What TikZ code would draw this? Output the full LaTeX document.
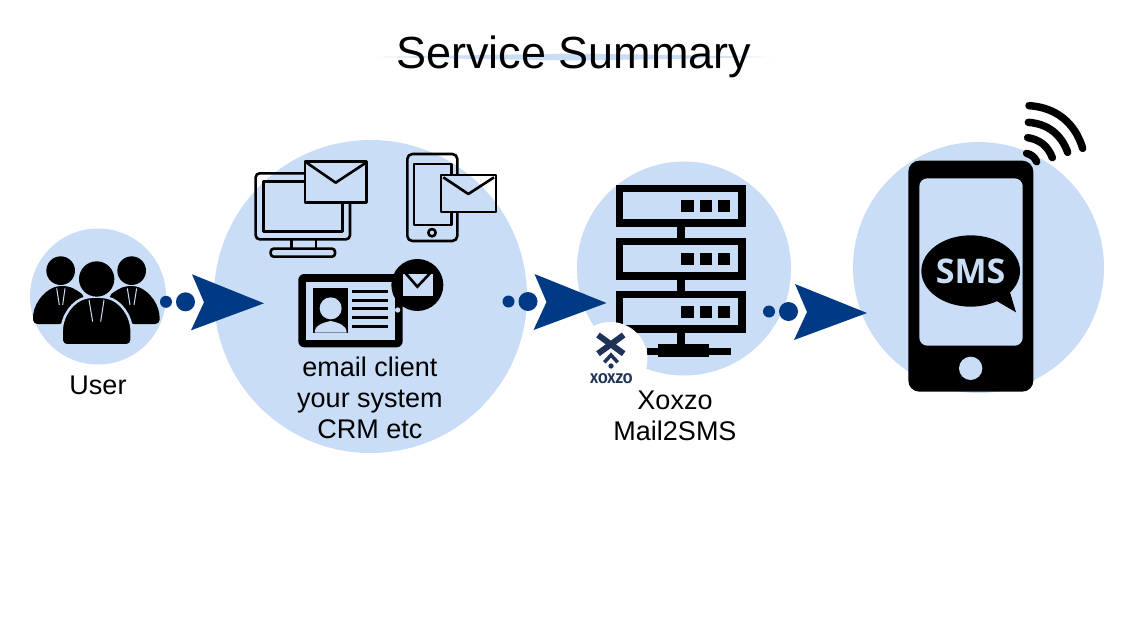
\documentclass[tikz,border=0pt]{standalone}
\usepackage{fontspec}
\setmainfont{Liberation Sans}
\newfontfamily\smsfont{Open Sans}
\newfontfamily\logofont{Fira Sans}
\definecolor{disc}{HTML}{C9DDF7}
\definecolor{flow}{HTML}{003A84}
\definecolor{logoink}{HTML}{1F3358}
\pgfdeclarehorizontalshading{titlerule}{100bp}{color(0bp)=(white);color(25bp)=(white);color(28bp)=(disc!70!white);color(38bp)=(disc);color(62bp)=(disc);color(72bp)=(disc!70!white);color(75bp)=(white);color(100bp)=(white)}
\tikzset{
  bluedisc/.style={circle,fill=disc,draw=none,inner sep=0pt},
  label27/.style={font=\fontsize{27}{31}\selectfont,align=center,anchor=base,inner sep=0pt,text=black},
  outline/.style={draw=black,line width=2.6pt,line join=round},
  pane/.style={fill=disc,draw=none},
  wave/.style={draw=black,line width=7.5pt,line cap=round},
  tinybar/.style={draw=black,line width=3pt},
  flowarrow/.pic={
    \fill[flow] (-72,-29) -- (0,0) -- (-73,27) -- (-60,-1) -- cycle;
    \fill[flow] (-78.5,-1.5) circle[radius=9.5];
    \fill[flow] (-98,-1.5) circle[radius=6];
  }
}
\begin{document}
\begin{tikzpicture}[x=1pt,y=-1pt]
\useasboundingbox (0,0) rectangle (1125,625);
\fill[white] (0,0) rectangle (1125,625);

% title
\shade[shading=titlerule] (370,57) -- (480,55) -- (573,53.5) -- (670,55) -- (776,57) -- (670,59) -- (573,60.5) -- (480,59) -- cycle;
\node[anchor=base,inner sep=0pt,font=\fontsize{45}{50}\selectfont] (title) at (574,68.5) {Service Summary};

% discs
\node[bluedisc,minimum size=136pt] (user) at (98,296.5) {};
\node[bluedisc,minimum size=313pt] (client) at (370.5,296.5) {};
\node[bluedisc,minimum size=214pt] (server) at (684,268.5) {};
\node[bluedisc,minimum size=251pt] (phone) at (978.5,267.5) {};

% people
\begin{scope}[shift={(20,140)},scale=1/3]
  \fill (122,392) circle[radius=43];
  \fill (335,392) circle[radius=43];
  \fill[rounded corners=4pt] (40,552) .. controls (36,495) and (70,455) .. (112,438) -- (142,438) .. controls (160,445) and (178,455) .. (195,470) -- (130,552) -- cycle;
  \fill[rounded corners=4pt] (418,552) .. controls (422,495) and (388,455) .. (348,438) -- (318,438) .. controls (300,445) and (282,455) .. (265,470) -- (330,552) -- cycle;
  \draw[disc,line width=1pt] (110,445) -- (118,495) (135,445) -- (128,495);
  \draw[disc,line width=1pt] (322,445) -- (330,495) (350,445) -- (342,495);
  \filldraw[fill=black,draw=disc,line width=2.5pt,rounded corners=5pt] (125,616) -- (125,590) .. controls (125,525) and (160,482) .. (210,470) -- (250,470) .. controls (300,482) and (335,525) .. (335,590) -- (335,616) -- cycle;
  \fill (230,417) circle[radius=53];
  \draw[disc,line width=1pt] (207,480) -- (218,545) (252,480) -- (242,545);
\end{scope}
\node[label27] (userlabel) at (98,394) {User};

% first arrow
\pic at (264,303.3) {flowarrow};

% client icons
\begin{scope}[shift={(240,140)},scale=1/3]
  % monitor
  \draw[outline,rounded corners=4pt] (47,100) rectangle (330,298);
  \draw[outline] (70,125) rectangle (308,275);
  \draw[outline] (155,300) -- (155,325) (228,300) -- (228,325);
  \draw[outline,rounded corners=3pt] (92,326) rectangle (285,350);
  \fill[disc] (195,65) rectangle (380,187);
  \draw[outline] (195,65) rectangle (380,187);
  \draw[outline] (200,68) -- (287,128) -- (378,68);
  % handset
  \draw[outline,rounded corners=5pt] (502,42) rectangle (652,303);
  \draw[outline] (522,72) rectangle (634,255);
  \draw[outline] (576,278) circle[radius=11];
  \fill[white] (603,105) rectangle (768,216);
  \begin{scope}
    \clip (603,105) rectangle (768,216);
    \fill[disc] (391.5,469.5) circle[radius=469.5];
  \end{scope}
  \draw[outline] (603,105) rectangle (768,216);
  \draw[outline] (610,112) -- (685,162) -- (762,112);
  % tablet
  \fill[black,rounded corners=6pt] (175,402) rectangle (488,622);
  \fill[pane] (198,425) rectangle (465,600);
  \fill[black] (220,445) rectangle (323,578);
  \fill[pane] (272,505) circle[radius=33];
  \fill[pane] (224,578) .. controls (224,555) and (250,548) .. (272,543) .. controls (295,548) and (320,555) .. (320,578) -- cycle;
  \foreach \yy in {455,482,505,532,560}
    \draw[tinybar] (337,\yy) -- (443,\yy);
  \fill[black] (532,435) circle[radius=78];
  \fill[pane] (488,402) rectangle (578,467);
  \draw[black,line width=2.6pt] (497,400) -- (532,440) -- (570,400);
  \fill[pane] (473,510) circle[radius=8];
\end{scope}
\node[label27] (clientlabel) at (370,438) {email client\\your system\\CRM etc};

% second arrow
\pic at (606.5,303) {flowarrow};

% server rack
\begin{scope}[shift={(570,170)},scale=1/3]
  \foreach \ry in {44,203,362} {
    \fill[black] (138,\ry) rectangle (527,\ry+127);
    \fill[pane] (160,\ry+23) rectangle (505,\ry+104);
    \foreach \sx in {334,389,443}
      \fill[black] (\sx,\ry+45) rectangle (\sx+38,\ry+83);
  }
  \fill[black] (321,171) rectangle (344,204);
  \fill[black] (321,330) rectangle (344,363);
  \fill[black] (321,489) rectangle (344,545);
  \fill[black] (230,533) rectangle (482,555);
  \fill[black] (265,523) rectangle (417,562);
\end{scope}

% logo
\node[circle,fill=white,inner sep=0pt,minimum size=74pt] (logo) at (610.5,359) {};
\begin{scope}[shift={(580,320)},scale=1/3]
  \draw[logoink,line width=6pt] (54,45) -- (131,101);
  \draw[logoink,line width=6pt] (131,45) -- (54,101);
  \draw[white,line width=7pt] (73,127) -- (93,105) -- (113,127);
  \draw[logoink,line width=3.5pt] (73,127) -- (93,105) -- (113,127);
  \fill[logoink] (93,138) circle[radius=8];
  \node[inner sep=0pt,font=\logofont\bfseries\fontsize{14}{14}\selectfont,text=logoink] (logotext) at (94,175) {XOXZO};
\end{scope}
\node[label27] (xoxzo) at (675,440.5) {Xoxzo\\Mail2SMS};

% third arrow
\pic at (867,313) {flowarrow};

% handset with SMS
\begin{scope}[shift={(880,90)},scale=1/3]
  \fill[black,rounded corners=11pt] (85,212) rectangle (460,905);
  \fill[pane,rounded corners=8pt] (118,265) rectangle (428,767);
  \fill[pane] (272,835) circle[radius=35];
  \fill[black] (272,543) ellipse[x radius=148,y radius=107];
  \fill[black] (345,630) -- (408,667) -- (385,590) -- cycle;
  \node[inner sep=0pt,font=\smsfont\bfseries\fontsize{34}{34}\selectfont,text=disc] (smstext) at (272,545) {SMS};
  \draw[wave] (447,47) to[bend left=35] (608,175);
  \draw[wave] (445,97) to[bend left=33] (563,187);
  \draw[wave] (443,143) to[bend left=30] (517,203);
  \draw[wave] (440,190) to[bend left=25] (470,215);
\end{scope}
\end{tikzpicture}
\end{document}
